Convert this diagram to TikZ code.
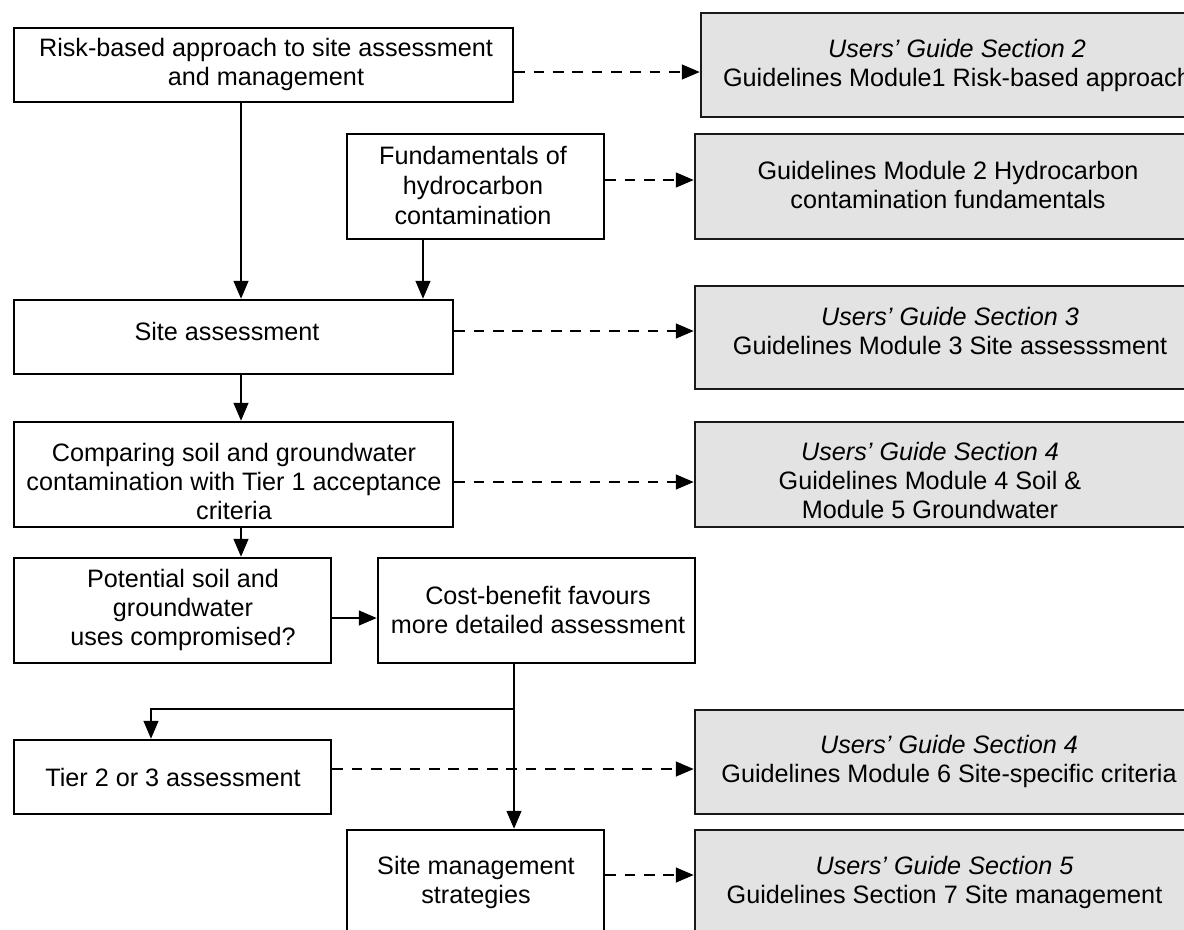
\documentclass[tikz,border=0pt]{standalone}
\usepackage{fontspec}
\setmainfont{Liberation Sans}
\usetikzlibrary{arrows.meta,fit}
\begin{document}
\begin{tikzpicture}[x=0.75pt,y=-0.75pt,
  box/.style={draw=black, line width=1.8pt, inner sep=0pt, fill=white},
  gbox/.style={draw=black!90, line width=1.8pt, inner sep=0pt, fill=black!11},
  txt/.style={align=center, font=\fontsize{18.9pt}{21.75pt}\selectfont, inner sep=0pt},
  arr/.style={line width=1.8pt, -{Triangle[length=13.5pt,width=11pt]}},
  darr/.style={arr, dash pattern=on 8pt off 6.5pt}]
\useasboundingbox (0,0) rectangle (1184,929);
\clip (0,0) rectangle (1184,929);
\fill[white] (0,0) rectangle (1184,929);

% left column boxes
\node[box, fit={(14,28) (513,102)}] (b1) {};
\node[box, fit={(347,134) (604,239)}] (b2) {};
\node[box, fit={(14,300) (453,374)}] (b3) {};
\node[box, fit={(14,422) (453,527)}] (b4) {};
\node[box, fit={(14,558) (331,663)}] (b5) {};
\node[box, fit={(378,558) (695,663)}] (b6) {};
\node[box, fit={(14,740) (331,814)}] (b7) {};
\node[box, fit={(347,830) (604,935)}] (b8) {};

% right column boxes
\node[gbox, fit={(701,13) (1202,117)}] (r1) {};
\node[gbox, fit={(695,134) (1202,239)}] (r2) {};
\node[gbox, fit={(695,286) (1202,389)}] (r3) {};
\node[gbox, fit={(695,422) (1202,527)}] (r4) {};
\node[gbox, fit={(695,710) (1202,814)}] (r5) {};
\node[gbox, fit={(695,830) (1202,934)}] (r6) {};

% texts
\node[txt] (t1) at (266,64.5) {Risk-based approach to site assessment\\and management};
\node[txt, font=\fontsize{18.9pt}{22.5pt}\selectfont] (t2) at (473,185) {Fundamentals of\\hydrocarbon\\contamination};
\node[txt] (t3) at (227,331) {Site assessment};
\node[txt] (t4) at (234,481) {Comparing soil and groundwater\\contamination with Tier 1 acceptance\\criteria};
\node[txt] (t5) at (183,610) {Potential soil and\\groundwater\\uses compromised?};
\node[txt] (t6) at (538,609.5) {Cost-benefit favours\\more detailed assessment};
\node[txt] (t7) at (173,777) {Tier 2 or 3 assessment};
\node[txt] (t8) at (476,882.5) {Site management\\strategies};

\node[txt] (u1) at (957,65) {\itshape Users’ Guide Section 2\\Guidelines Module1 Risk-based approach};
\node[txt] (u2) at (948,185) {Guidelines Module 2 Hydrocarbon\\contamination fundamentals};
\node[txt] (u3) at (950,331) {\itshape Users’ Guide Section 3\\Guidelines Module 3 Site assesssment};
\node[txt] (u4) at (930,480) {\itshape Users’ Guide Section 4\\Guidelines Module 4 Soil \&\\Module 5 Groundwater};
\node[txt] (u5) at (949,761.5) {\itshape Users’ Guide Section 4\\Guidelines Module 6 Site-specific criteria};
\node[txt] (u6) at (944.5,882) {\itshape Users’ Guide Section 5\\Guidelines Section 7 Site management};

% helper coordinates
\coordinate (xa) at (241,0);
\coordinate (xb) at (423,0);
\coordinate (xc) at (514,0);
\coordinate (xt) at (151,0);
\coordinate (yb) at (0,709);
\coordinate (ya) at (0,618);
\coordinate (d1) at (0,72);
\coordinate (d2) at (0,180);
\coordinate (d3) at (0,331);
\coordinate (d4) at (0,482);
\coordinate (d5) at (0,769);
\coordinate (d6) at (0,875);

% solid connectors
\draw[arr] (xa |- b1.south) -- (xa |- b3.north);
\draw[arr] (xb |- b2.south) -- (xb |- b3.north);
\draw[arr] (xa |- b3.south) -- (xa |- b4.north);
\draw[arr] (xa |- b4.south) -- (xa |- b5.north);
\draw[arr] (b5.east |- ya) -- (b6.west |- ya);
\draw[arr] (xc |- b6.south) -- (xc |- b8.north);
\draw[arr] (xc |- yb) -- (xt |- yb) -- (xt |- b7.north);

% dashed connectors
\draw[darr] (b1.east |- d1) -- (r1.west |- d1);
\draw[darr] (b2.east |- d2) -- (r2.west |- d2);
\draw[darr] (b3.east |- d3) -- (r3.west |- d3);
\draw[darr] (b4.east |- d4) -- (r4.west |- d4);
\draw[darr] (b7.east |- d5) -- (r5.west |- d5);
\draw[darr] (b8.east |- d6) -- (r6.west |- d6);
\end{tikzpicture}
\end{document}
